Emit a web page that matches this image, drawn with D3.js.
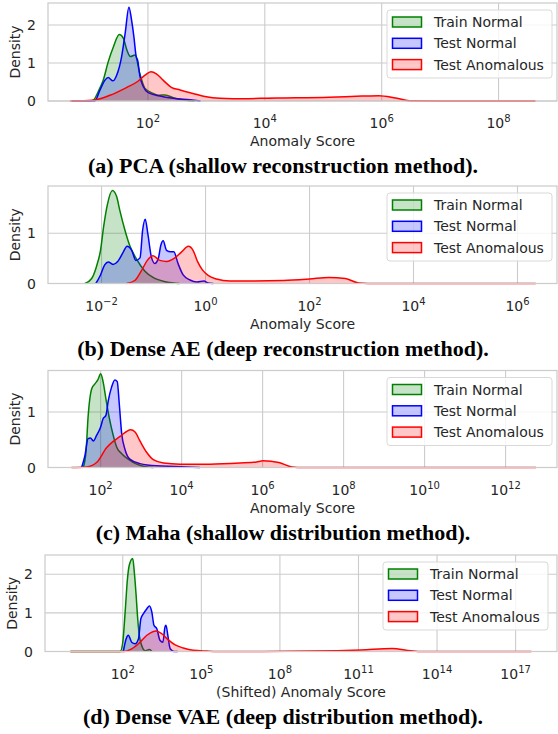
<!DOCTYPE html>
<html>
<head>
<meta charset="utf-8">
<script src="https://cdn.jsdelivr.net/npm/d3@7"></script>
<style>
  body { margin: 0; background: #fff; }
  text { font-family: "DejaVu Sans", sans-serif; fill: #262626; }
  .caption { font-family: "Liberation Serif", serif; font-weight: bold; fill: #000; }
</style>
</head>
<body>
<div id="chart"></div>
<script>
// --------------------------------------
//  Data (log10 of score, density)
// --------------------------------------

const seriesNames = ["Train Normal", "Test Normal", "Test Anomalous"];

const pcaTrain = [[0.7,0],[1.0,0],[1.065,0.02],[1.15,0.25],[1.236,0.55],[1.32,1.03],[1.41,1.43],[1.51,1.75],[1.58,1.65],[1.64,1.34],[1.70,1.17],[1.78,1.21],[1.86,0.73],[1.95,0.33],[2.09,0.2],[2.18,0.15],[2.29,0.16],[2.46,0.07],[2.65,0.02],[2.8,0]];
const pcaTest = [[0.7,0],[1.09,0],[1.18,0.29],[1.265,0.55],[1.32,0.62],[1.40,0.53],[1.465,0.68],[1.55,1.17],[1.61,1.78],[1.675,2.47],[1.72,2.13],[1.76,1.69],[1.795,1.21],[1.83,1.03],[1.86,0.68],[1.92,0.38],[2.005,0.22],[2.205,0.13],[2.43,0.07],[2.72,0.03],[2.9,0]];
const pcaAnom = [[0.67,0],[1.06,0.02],[1.35,0.15],[1.64,0.36],[1.83,0.52],[1.95,0.68],[2.05,0.77],[2.15,0.71],[2.26,0.55],[2.40,0.36],[2.55,0.29],[2.77,0.2],[3.0,0.11],[3.23,0.07],[3.45,0.06],[4.2,0.08],[5.1,0.1],[5.66,0.13],[5.95,0.14],[6.24,0.08],[6.51,0.005],[7.0,0],[8.63,0]];

const aeTrain = [[-2.32,0],[-2.19,0.1],[-2.10,0.33],[-2.02,0.66],[-1.96,1.13],[-1.89,1.56],[-1.79,1.85],[-1.71,1.73],[-1.65,1.46],[-1.55,1.06],[-1.46,0.76],[-1.33,0.49],[-1.17,0.25],[-1.01,0.12],[-0.75,0.03],[-0.5,0]];
const aeTest = [[-2.11,0],[-2.02,0.17],[-1.94,0.37],[-1.87,0.43],[-1.78,0.38],[-1.68,0.45],[-1.58,0.63],[-1.51,0.74],[-1.42,0.66],[-1.34,0.46],[-1.26,0.51],[-1.21,1.06],[-1.16,1.28],[-1.11,0.99],[-1.04,0.52],[-0.975,0.40],[-0.91,0.49],[-0.86,0.76],[-0.815,0.85],[-0.75,0.66],[-0.67,0.63],[-0.61,0.63],[-0.53,0.40],[-0.43,0.17],[-0.30,0.07],[-0.17,0.03],[-0.03,0.05],[0.05,0.01],[0.15,0]];
const aeAnom = [[-1.52,0],[-1.36,0.06],[-1.23,0.26],[-1.12,0.46],[-1.01,0.55],[-0.88,0.46],[-0.75,0.44],[-0.59,0.51],[-0.46,0.63],[-0.33,0.74],[-0.24,0.66],[-0.15,0.43],[-0.06,0.27],[0.05,0.16],[0.21,0.09],[0.47,0.05],[0.79,0.05],[1.5,0.06],[2.0,0.09],[2.37,0.12],[2.69,0.1],[2.95,0.01],[3.3,0],[6.35,0]];

const mahaTrain = [[1.57,0],[1.64,0.30],[1.69,0.91],[1.78,1.42],[1.86,1.51],[1.93,1.58],[2.0,1.69],[2.06,1.55],[2.13,1.24],[2.21,0.91],[2.30,0.61],[2.40,0.36],[2.52,0.25],[2.68,0.15],[2.89,0.06],[3.14,0.01],[3.3,0]];
const mahaTest = [[1.53,0],[1.61,0.21],[1.69,0.52],[1.75,0.53],[1.82,0.48],[1.90,0.58],[2.0,0.73],[2.06,0.88],[2.13,0.94],[2.19,1.21],[2.27,1.45],[2.35,1.58],[2.41,1.55],[2.46,1.15],[2.52,0.61],[2.60,0.33],[2.72,0.15],[2.97,0.07],[3.38,0.03],[3.88,0.02],[4.45,0]];
const mahaAnom = [[1.28,0],[1.65,0.01],[1.90,0.09],[2.15,0.36],[2.31,0.47],[2.48,0.56],[2.64,0.65],[2.74,0.68],[2.85,0.64],[2.97,0.48],[3.14,0.27],[3.30,0.14],[3.55,0.08],[3.96,0.06],[4.70,0.06],[5.44,0.08],[5.85,0.1],[6.01,0.12],[6.40,0.09],[6.73,0.01],[7.0,0],[12.75,0]];

const vaeTrain = [[0.0,0],[1.90,0],[2.0,0.24],[2.09,1.02],[2.18,1.89],[2.25,2.24],[2.38,2.41],[2.44,2.06],[2.51,1.45],[2.57,0.85],[2.63,0.42],[2.72,0.16],[2.85,0.02],[3.02,0.05],[3.11,0]];
const vaeTest = [[2.02,0],[2.13,0.33],[2.21,0.42],[2.34,0.24],[2.47,0.2],[2.60,0.33],[2.69,0.85],[2.79,0.98],[2.92,1.11],[3.02,1.18],[3.11,1.02],[3.19,0.68],[3.30,0.59],[3.42,0.29],[3.53,0.24],[3.61,0.63],[3.65,0.68],[3.72,0.42],[3.81,0.07],[3.96,0],[4.1,0]];
const vaeAnom = [[0.0,0],[2.02,0],[2.34,0.07],[2.66,0.24],[2.92,0.42],[3.17,0.52],[3.27,0.53],[3.49,0.46],[3.74,0.30],[4.0,0.17],[4.31,0.09],[4.69,0.03],[5.21,0.01],[5.6,0],[9.2,0.01],[11.1,0.04],[12.28,0.08],[13.0,0.02],[13.4,0],[17.6,0]];

// tick exponents per panel
const pcaTicks = [2, 4, 6, 8];
const aeTicks = [-2, 0, 2, 4, 6];
const mahaTicks = [2, 4, 6, 8, 10, 12];
const vaeTicks = [2, 5, 8, 11, 14, 17];

const pcaYTicks = [0, 1, 2];
const aeYTicks = [0, 1];
const mahaYTicks = [0, 1];
const vaeYTicks = [0, 1, 2];

const captions = [
  "(a) PCA (shallow reconstruction method).",
  "(b) Dense AE (deep reconstruction method).",
  "(c) Maha (shallow distribution method).",
  "(d) Dense VAE (deep distribution method)."
];
const xLabels = ["Anomaly Score", "Anomaly Score", "Anomaly Score", "(Shifted) Anomaly Score"];

// --------------------------------------
//  Layout
// --------------------------------------

const width = 558;
const height = 734;
const colors = ["green", "blue", "red"];

const panels = [
  {series: [pcaTrain, pcaTest, pcaAnom], ticks: pcaTicks, yTicks: pcaYTicks,
   left: 48, right: 557, top: 3, bottom: 101, xExp: [0.29, 9.0], yMax: 2.58, legendRight: 552},
  {series: [aeTrain, aeTest, aeAnom], ticks: aeTicks, yTicks: aeYTicks,
   left: 48, right: 557, top: 186, bottom: 283.5, xExp: [-3.03, 6.76], yMax: 1.94, legendRight: 552},
  {series: [mahaTrain, mahaTest, mahaAnom], ticks: mahaTicks, yTicks: mahaYTicks,
   left: 48, right: 557, top: 370.5, bottom: 467.5, xExp: [0.70, 13.27], yMax: 1.75, legendRight: 552},
  {series: [vaeTrain, vaeTest, vaeAnom], ticks: vaeTicks, yTicks: vaeYTicks,
   left: 45, right: 557, top: 555, bottom: 651.5, xExp: [-0.97, 18.58], yMax: 2.5, legendRight: 548}
];

const svg = d3.select("#chart")
  .append("svg")
    .attr("width", width)
    .attr("height", height)
    .attr("viewBox", `0, 0, ${width}, ${height}`);

svg.append("rect")
    .attr("width", width)
    .attr("height", height)
    .attr("fill", "#fff");

const supMinus = e => (e < 0 ? "\u2212" + Math.abs(e) : String(e));

panels.forEach((p, i) => {

  // --------------------------------------
  //  Scales
  // --------------------------------------

  const x = d3.scaleLog()
      .domain([10 ** p.xExp[0], 10 ** p.xExp[1]])
      .range([p.left, p.right]);

  const y = d3.scaleLinear()
      .domain([0, p.yMax])
      .range([p.bottom, p.top]);

  const g = svg.append("g");

  // --------------------------------------
  //  Grid
  // --------------------------------------

  g.append("g")
    .selectAll("line")
    .data(p.ticks)
    .join("line")
      .attr("x1", d => x(10 ** d))
      .attr("x2", d => x(10 ** d))
      .attr("y1", p.top)
      .attr("y2", p.bottom)
      .attr("stroke", "#cccccc")
      .attr("stroke-width", 1.1);

  g.append("g")
    .selectAll("line")
    .data(p.yTicks)
    .join("line")
      .attr("x1", p.left)
      .attr("x2", p.right)
      .attr("y1", d => y(d))
      .attr("y2", d => y(d))
      .attr("stroke", "#cccccc")
      .attr("stroke-width", 1.1);

  // --------------------------------------
  //  Density curves
  // --------------------------------------

  const area = d3.area()
      .x(d => x(10 ** d[0]))
      .y0(y(0))
      .y1(d => y(d[1]))
      .curve(d3.curveMonotoneX);

  const line = d3.line()
      .x(d => x(10 ** d[0]))
      .y(d => y(d[1]))
      .curve(d3.curveMonotoneX);

  p.series.forEach((s, k) => {
    g.append("path")
        .datum(s)
        .attr("d", area)
        .attr("fill", colors[k])
        .attr("fill-opacity", 0.22);
    g.append("path")
        .datum(s)
        .attr("d", line)
        .attr("fill", "none")
        .attr("stroke", colors[k])
        .attr("stroke-width", 1.5)
        .attr("stroke-linejoin", "round");
  });

  // frame
  g.append("rect")
      .attr("x", p.left)
      .attr("y", p.top)
      .attr("width", p.right - p.left)
      .attr("height", p.bottom - p.top)
      .attr("fill", "none")
      .attr("stroke", "#cccccc")
      .attr("stroke-width", 1.25);

  // --------------------------------------
  //  Axes labels
  // --------------------------------------

  const xt = g.append("g")
    .selectAll("text")
    .data(p.ticks)
    .join("text")
      .attr("x", d => x(10 ** d))
      .attr("y", p.bottom + 27)
      .attr("text-anchor", "middle")
      .attr("font-size", 14);

  xt.append("tspan").text("10");
  xt.append("tspan")
      .attr("dy", -6)
      .attr("font-size", 10)
      .text(d => supMinus(d));

  g.append("g")
    .selectAll("text")
    .data(p.yTicks)
    .join("text")
      .attr("x", p.left - 12)
      .attr("y", d => y(d))
      .attr("dy", "0.36em")
      .attr("text-anchor", "end")
      .attr("font-size", 14)
      .text(d => d);

  g.append("text")
      .attr("transform", `translate(${p.left - 28}, ${(p.top + p.bottom) / 2}) rotate(-90)`)
      .attr("text-anchor", "middle")
      .attr("font-size", 14)
      .text("Density");

  g.append("text")
      .attr("x", (p.left + p.right) / 2)
      .attr("y", p.bottom + 45)
      .attr("text-anchor", "middle")
      .attr("font-size", 14)
      .text(xLabels[i]);

  g.append("text")
      .attr("class", "caption")
      .attr("x", 283)
      .attr("y", p.bottom + 72)
      .attr("text-anchor", "middle")
      .attr("font-size", 22)
      .text(captions[i]);

  // --------------------------------------
  //  Legend
  // --------------------------------------

  const lw = 165;
  const lx = p.legendRight - lw;
  const ly = p.top + 7;

  const legend = g.append("g")
      .attr("transform", `translate(${lx}, ${ly})`);

  legend.append("rect")
      .attr("width", lw)
      .attr("height", 68)
      .attr("rx", 3)
      .attr("fill", "#fff")
      .attr("fill-opacity", 0.8)
      .attr("stroke", "#d9d9d9");

  const items = legend.selectAll(".item")
    .data(seriesNames)
    .join("g")
      .attr("class", "item")
      .attr("transform", (d, k) => `translate(0, ${12 + k * 21.3})`);

  items.append("rect")
      .attr("x", 5.5)
      .attr("y", -5)
      .attr("width", 29)
      .attr("height", 10)
      .attr("fill", (d, k) => d3.color(colors[k]).copy({opacity: 0.22}))
      .attr("stroke", (d, k) => colors[k])
      .attr("stroke-width", 1.5);

  items.append("text")
      .attr("x", 47)
      .attr("dy", "0.36em")
      .attr("font-size", 14)
      .text(d => d);
});
</script>
</body>
</html>
